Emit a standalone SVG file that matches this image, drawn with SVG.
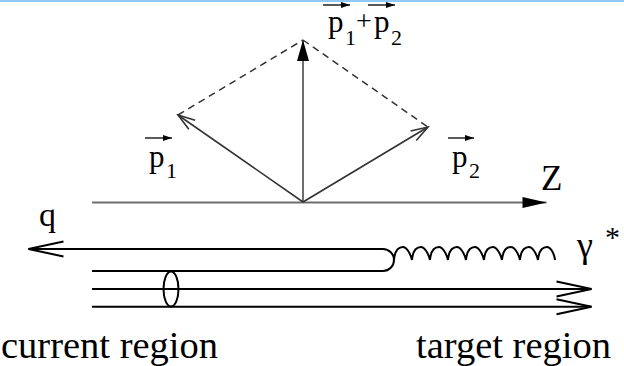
<svg xmlns="http://www.w3.org/2000/svg" width="624" height="366" viewBox="0 0 624 366">
<style>
.quark{stroke:#000;stroke-width:2;fill:none}
.axis{stroke:#6e6e6e;stroke-width:2;fill:none}
.vec{stroke:#333;stroke-width:1.6;fill:none}
.dash{stroke:#333;stroke-width:1.5;fill:none;stroke-dasharray:7 5}
.over{stroke:#000;stroke-width:1.3;fill:none}
</style>
<defs>
<marker id="openBig" markerUnits="userSpaceOnUse" viewBox="-37 -10 39 20" markerWidth="39" markerHeight="20" refX="0" refY="0" orient="auto">
<path d="M-35,-7.5 L0,0 L-35,7.5" stroke="#000" stroke-width="2" fill="none"/>
</marker>
<marker id="openSmall" markerUnits="userSpaceOnUse" viewBox="-19 -8 21 16" markerWidth="21" markerHeight="16" refX="0" refY="0" orient="auto">
<path d="M-17,-5.5 L0,0 L-17,5.5" stroke="#333" stroke-width="1.6" fill="none"/>
</marker>
<marker id="fillZ" markerUnits="userSpaceOnUse" viewBox="-25 -7 26 14" markerWidth="26" markerHeight="14" refX="0" refY="0" orient="auto">
<path d="M-24,-5.5 L0,0 L-24,5.5 Z" fill="#000"/>
</marker>
<marker id="fillV" markerUnits="userSpaceOnUse" viewBox="-22 -7 23 14" markerWidth="23" markerHeight="14" refX="0" refY="0" orient="auto">
<path d="M-21,-6 L0,0 L-21,6 Z" fill="#000"/>
</marker>
<marker id="fillTiny" markerUnits="userSpaceOnUse" viewBox="-10 -4 11 8" markerWidth="11" markerHeight="8" refX="0" refY="0" orient="auto">
<path d="M-9,-3 L0,0 L-9,3 Z" fill="#000"/>
</marker>
</defs>
<rect x="0" y="0" width="624" height="2" fill="#8fc9f9"/>

<g id="connectors">
<line id="z-axis" class="axis" x1="92" y1="202.5" x2="546.5" y2="202.5" marker-end="url(#fillZ)"/>
<line id="sum-vector" class="axis" x1="303" y1="202" x2="303" y2="40" marker-end="url(#fillV)"/>
<line id="p1-vector" class="vec" x1="303" y1="202" x2="178" y2="115" marker-end="url(#openSmall)"/>
<line id="p2-vector" class="vec" x1="303" y1="202" x2="428" y2="127" marker-end="url(#openSmall)"/>
<line class="dash" x1="178" y1="115" x2="303" y2="40"/>
<line class="dash" x1="303" y1="40" x2="428" y2="127"/>
<path id="quark-line" class="quark" d="M92,271 L383,271 A11,11 0 0 0 383,249 L28.5,249" marker-end="url(#openBig)"/>
<path id="photon" class="quark" d="M394,260 C395,249 400,247 403,247 C406,247 410,252 412,260 C413,249 418,247 421,247 C424,247 428,252 430,260 C431,249 436,247 439,247 C442,247 446,252 448,260 C449,249 454,247 457,247 C460,247 464,252 466,260 C467,249 472,247 475,247 C478,247 482,252 484,260 C485,249 490,247 493,247 C496,247 500,252 502,260 C503,249 508,247 511,247 C514,247 518,252 520,260 C521,249 526,247 529,247 C532,247 536,252 538,260 C539,249 544,247 547,247 C550,247 554,252 555,260"/>
<line id="spectator-1" class="quark" x1="92" y1="289" x2="591.5" y2="289" marker-end="url(#openBig)"/>
<line id="spectator-2" class="quark" x1="92" y1="306.7" x2="591.5" y2="306.7" marker-end="url(#openBig)"/>
<line class="over" x1="323" y1="5" x2="350" y2="5" marker-end="url(#fillTiny)"/>
<line class="over" x1="368" y1="5" x2="395" y2="5" marker-end="url(#fillTiny)"/>
<line class="over" x1="145" y1="138" x2="172" y2="138" marker-end="url(#fillTiny)"/>
<line class="over" x1="448" y1="138" x2="474" y2="138" marker-end="url(#fillTiny)"/>
</g>

<g id="proton-bound">
<ellipse cx="171" cy="289" rx="7.5" ry="17.5" class="quark"/>
</g>

<g font-family="Liberation Serif, DejaVu Serif, serif" fill="#000">
<g id="label-sum">
<text font-size="31" x="328" y="32">p</text>
<text font-size="22" x="345" y="45">1</text>
<text font-size="28" x="356" y="30">+</text>
<text font-size="31" x="374" y="32">p</text>
<text font-size="22" x="391" y="45">2</text>
</g>
<g id="label-p1">
<text font-size="31" x="149" y="167">p</text>
<text font-size="22" x="166" y="178">1</text>
</g>
<g id="label-p2">
<text font-size="31" x="452" y="167">p</text>
<text font-size="22" x="469" y="178">2</text>
</g>
<g id="label-z"><text font-size="35" x="541" y="190">Z</text></g>
<g id="label-q"><text font-size="34" x="39" y="226">q</text></g>
<g id="label-gamma">
<text font-size="36" x="577" y="257">γ</text>
<text font-size="30" x="605" y="247">*</text>
</g>
<g id="label-current"><text font-size="38.5" x="1" y="358">current region</text></g>
<g id="label-target"><text font-size="38.5" x="416" y="358">target region</text></g>
</g>
</svg>
